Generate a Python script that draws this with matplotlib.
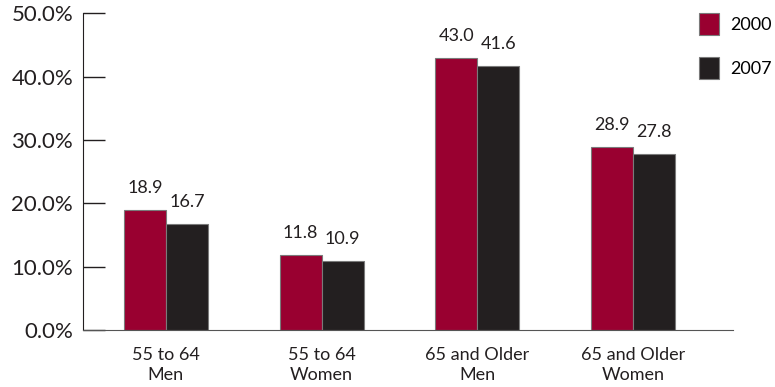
import matplotlib.pyplot as plt
import numpy as np

groups = ['55 to 64\nMen', '55 to 64\nWomen', '65 and Older\nMen', '65 and Older\nWomen']
vals_2000 = [18.9, 11.8, 43.0, 28.9]
vals_2007 = [16.7, 10.9, 41.6, 27.8]
series = ['2000', '2007']
colors = ['#990030', '#231f20']

plt.rcParams['font.family'] = ['Lato', 'DejaVu Sans']

fig = plt.figure(figsize=(7.75, 3.87), dpi=100)
ax = fig.add_axes([0.107, 0.147, 0.839, 0.819])

x = np.arange(len(groups))
w = 0.27
b1 = ax.bar(x - w / 2, vals_2000, w, color=colors[0], edgecolor='#7a7a7a', linewidth=0.8, label=series[0])
b2 = ax.bar(x + w / 2, vals_2007, w, color=colors[1], edgecolor='#7a7a7a', linewidth=0.8, label=series[1])

for bars, vals in [(b1, vals_2000), (b2, vals_2007)]:
    for r, v in zip(bars, vals):
        ax.text(r.get_x() + r.get_width() / 2, v + 2.2, f'{v:.1f}', ha='center', va='bottom',
                fontsize=13, color='#231f20')

ax.set_ylim(0, 50)
ax.set_xlim(-0.533, 3.642)
ax.set_yticks(range(0, 51, 10))
ax.set_yticklabels([f'{t:.1f}%' for t in range(0, 51, 10)], fontsize=16, color='#231f20')
ax.tick_params(axis='y', direction='in', length=16, width=1, pad=7, color='#231f20')
ax.set_xticks(x)
ax.set_xticklabels(groups, fontsize=13, color='#231f20', linespacing=1.35)
ax.tick_params(axis='x', length=0, pad=12)

for s in ['top', 'right']:
    ax.spines[s].set_visible(False)
ax.spines['left'].set_color('#231f20')
ax.spines['bottom'].set_color('#555555')

fig.legend(loc='upper left', bbox_to_anchor=(0.902, 0.966), frameon=False, fontsize=13,
           handlelength=1.1, handleheight=1.5, labelspacing=1.2, handletextpad=0.6,
           borderpad=0, borderaxespad=0)

fig.savefig('out.png', dpi=100)
